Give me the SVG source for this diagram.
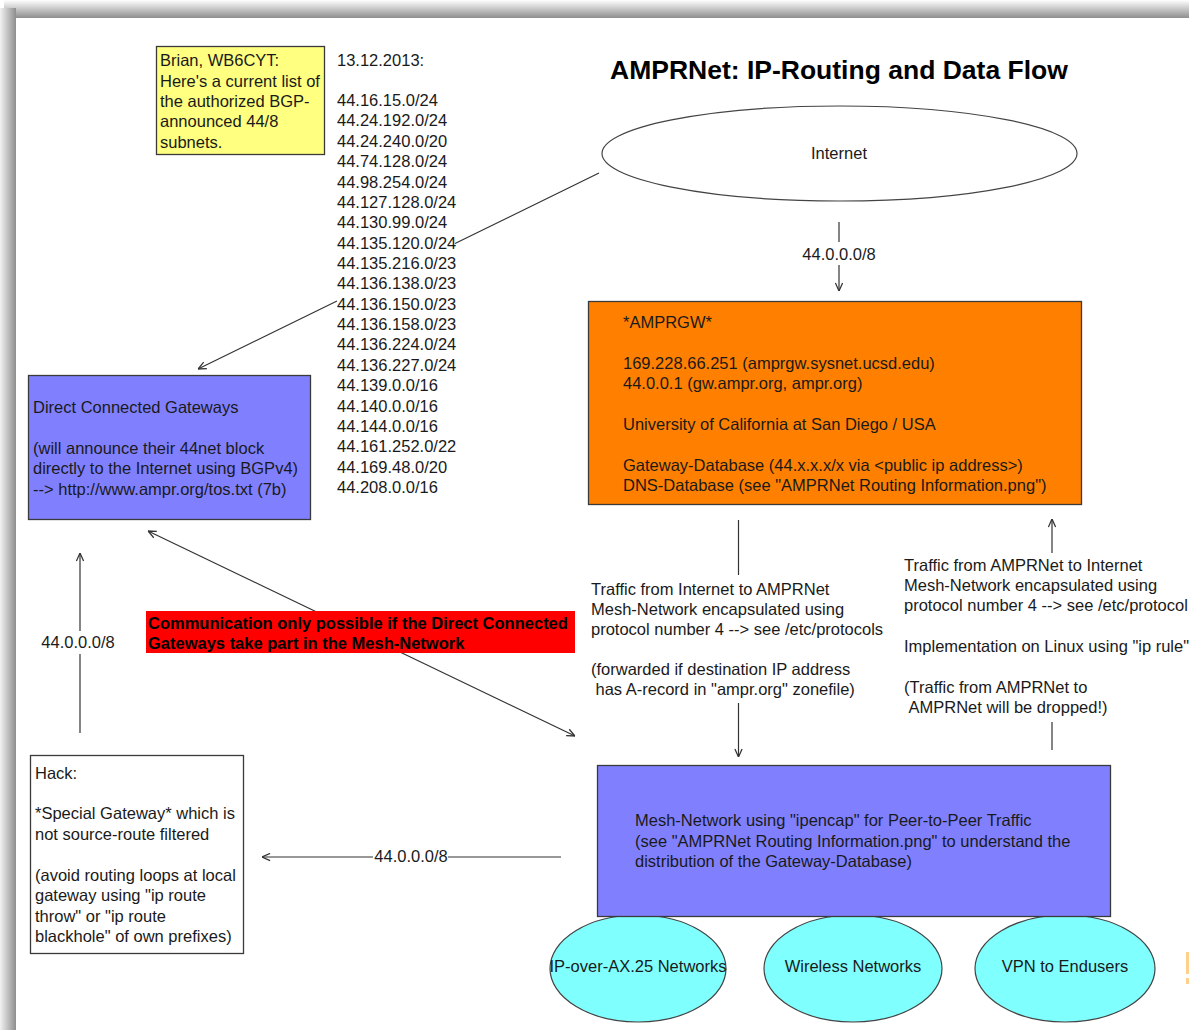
<svg xmlns="http://www.w3.org/2000/svg" width="1189" height="1030" viewBox="0 0 1189 1030">
<defs>
<style>
.t{font-family:"Liberation Sans",Arial,Helvetica,sans-serif;font-size:16.5px;fill:#1a1a1a}
.b{font-weight:bold}
.box{stroke:#3a3a3a;stroke-width:1.3}
.conn{stroke:#333;stroke-width:1.2;fill:none}
</style>
<linearGradient id="gTop" x1="0" y1="0" x2="0" y2="1">
<stop offset="0" stop-color="#ffffff"/><stop offset="1" stop-color="#8e8e8e"/>
</linearGradient>
<linearGradient id="gLeft" x1="0" y1="0" x2="1" y2="0">
<stop offset="0" stop-color="#f2f2f2"/><stop offset="1" stop-color="#8e8e8e"/>
</linearGradient>
<marker id="arr" viewBox="0 0 10 10" refX="10" refY="5" markerWidth="9" markerHeight="9" markerUnits="userSpaceOnUse" orient="auto-start-reverse">
<path d="M1,1 L10,5 L1,9" fill="none" stroke="#333" stroke-width="1.4"/>
</marker>
</defs>

<g id="page">
<rect x="0" y="0" width="1189" height="1030" fill="#ffffff"/>
<rect x="4" y="0" width="1185" height="18" fill="url(#gTop)"/>
<rect x="0" y="8" width="16" height="1022" fill="url(#gLeft)"/>
<rect x="16" y="18" width="1173" height="1012" fill="#ffffff"/>
<rect x="1186" y="952" width="3" height="22" fill="#ffd08a"/>
<rect x="1186" y="978" width="3" height="6" fill="#ffd08a"/>
</g>

<g id="title">
<text class="t b" x="610" y="79" style="font-size:26.5px;fill:#000">AMPRNet: IP-Routing and Data Flow</text>
</g>

<g id="connectors">
<path class="conn" d="M599,173 L455,243.5 M337,301 L198,369" marker-end="url(#arr)"/>
<path class="conn" d="M839,222 L839,242"/>
<path class="conn" d="M839,265 L839,291" marker-end="url(#arr)"/>
<path class="conn" d="M738.5,520 L738.5,575"/>
<path class="conn" d="M738.5,703 L738.5,757" marker-end="url(#arr)"/>
<path class="conn" d="M1052,553 L1052,519" marker-end="url(#arr)"/>
<path class="conn" d="M1052,750 L1052,722"/>
<path class="conn" d="M80,733 L80,654"/>
<path class="conn" d="M80,631 L80,553" marker-end="url(#arr)"/>
<path class="conn" d="M148,531 L575,736" marker-start="url(#arr)" marker-end="url(#arr)"/>
<path class="conn" d="M561,857 L448,857"/>
<path class="conn" d="M373,857 L262,857" marker-end="url(#arr)"/>
<text class="t" x="839" y="260" text-anchor="middle">44.0.0.0/8</text>
<text class="t" x="78" y="648" text-anchor="middle">44.0.0.0/8</text>
<text class="t" x="411" y="862" text-anchor="middle">44.0.0.0/8</text>
</g>

<g id="note-brian">
<rect class="box" x="156.5" y="46.5" width="168" height="108" fill="#ffff80"/>
<text class="t" x="160" y="66">Brian, WB6CYT:</text>
<text class="t" x="160" y="86.5">Here's a current list of</text>
<text class="t" x="160" y="107">the authorized BGP-</text>
<text class="t" x="160" y="127">announced 44/8</text>
<text class="t" x="160" y="147.5">subnets.</text>
</g>

<g id="subnet-list">
<text class="t" x="337" y="66">13.12.2013:</text>
<text class="t" x="337" y="106">44.16.15.0/24</text>
<text class="t" x="337" y="126.4">44.24.192.0/24</text>
<text class="t" x="337" y="146.7">44.24.240.0/20</text>
<text class="t" x="337" y="167.1">44.74.128.0/24</text>
<text class="t" x="337" y="187.5">44.98.254.0/24</text>
<text class="t" x="337" y="207.9">44.127.128.0/24</text>
<text class="t" x="337" y="228.2">44.130.99.0/24</text>
<text class="t" x="337" y="248.6">44.135.120.0/24</text>
<text class="t" x="337" y="269">44.135.216.0/23</text>
<text class="t" x="337" y="289.3">44.136.138.0/23</text>
<text class="t" x="337" y="309.7">44.136.150.0/23</text>
<text class="t" x="337" y="330.1">44.136.158.0/23</text>
<text class="t" x="337" y="350.4">44.136.224.0/24</text>
<text class="t" x="337" y="370.8">44.136.227.0/24</text>
<text class="t" x="337" y="391.2">44.139.0.0/16</text>
<text class="t" x="337" y="411.6">44.140.0.0/16</text>
<text class="t" x="337" y="431.9">44.144.0.0/16</text>
<text class="t" x="337" y="452.3">44.161.252.0/22</text>
<text class="t" x="337" y="472.7">44.169.48.0/20</text>
<text class="t" x="337" y="493">44.208.0.0/16</text>
</g>

<g id="internet">
<ellipse cx="839.5" cy="153.5" rx="237.5" ry="47.5" fill="#ffffff" stroke="#444" stroke-width="1.2"/>
<text class="t" x="839" y="159" text-anchor="middle">Internet</text>
</g>

<g id="amprgw">
<rect class="box" x="588.5" y="301.5" width="493" height="203" fill="#ff8000"/>
<text class="t" x="623" y="327.5">*AMPRGW*</text>
<text class="t" x="623" y="368.5">169.228.66.251 (amprgw.sysnet.ucsd.edu)</text>
<text class="t" x="623" y="389">44.0.0.1 (gw.ampr.org, ampr.org)</text>
<text class="t" x="623" y="429.5">University of California at San Diego / USA</text>
<text class="t" x="623" y="470.5">Gateway-Database (44.x.x.x/x via &lt;public ip address&gt;)</text>
<text class="t" x="623" y="491">DNS-Database (see "AMPRNet Routing Information.png")</text>
</g>

<g id="direct-gateways">
<rect class="box" x="28.5" y="375.5" width="282" height="144" fill="#8080ff"/>
<text class="t" x="33" y="413">Direct Connected Gateways</text>
<text class="t" x="33" y="453.5">(will announce their 44net block</text>
<text class="t" x="33" y="474">directly to the Internet using BGPv4)</text>
<text class="t" x="33" y="494.5">--&gt; http://www.ampr.org/tos.txt (7b)</text>
</g>

<g id="label-inbound">
<text class="t" x="591" y="594.5">Traffic from Internet to AMPRNet</text>
<text class="t" x="591" y="615">Mesh-Network encapsulated using</text>
<text class="t" x="591" y="635">protocol number 4 --&gt; see /etc/protocols</text>
<text class="t" x="591" y="675">(forwarded if destination IP address</text>
<text class="t" x="595.5" y="695">has A-record in "ampr.org" zonefile)</text>
</g>

<g id="label-outbound">
<text class="t" x="904" y="570.5">Traffic from AMPRNet to Internet</text>
<text class="t" x="904" y="591">Mesh-Network encapsulated using</text>
<text class="t" x="904" y="611">protocol number 4 --&gt; see /etc/protocol</text>
<text class="t" x="904" y="651.5">Implementation on Linux using "ip rule"</text>
<text class="t" x="904" y="692.5">(Traffic from AMPRNet to</text>
<text class="t" x="908.5" y="713">AMPRNet will be dropped!)</text>
</g>

<g id="note-communication">
<rect x="146" y="611" width="429" height="42" fill="#ff0000"/>
<text class="t b" x="148" y="628.5" style="fill:#000">Communication only possible if the Direct Connected</text>
<text class="t b" x="148" y="648.5" style="fill:#000">Gateways take part in the Mesh-Network</text>
</g>

<g id="hack">
<rect class="box" x="30.5" y="755.5" width="213" height="198" fill="#ffffff"/>
<text class="t" x="35" y="778.5">Hack:</text>
<text class="t" x="35" y="819">*Special Gateway* which is</text>
<text class="t" x="35" y="839.5">not source-route filtered</text>
<text class="t" x="35" y="880.5">(avoid routing loops at local</text>
<text class="t" x="35" y="901">gateway using "ip route</text>
<text class="t" x="35" y="921.5">throw" or "ip route</text>
<text class="t" x="35" y="942">blackhole" of own prefixes)</text>
</g>

<g id="net-ax25">
<ellipse cx="638" cy="968.5" rx="88" ry="53.5" fill="#80ffff" stroke="#444" stroke-width="1.2"/>
<text class="t" x="638" y="972" text-anchor="middle">IP-over-AX.25 Networks</text>
</g>
<g id="net-wireless">
<ellipse cx="853" cy="968.5" rx="89" ry="53.5" fill="#80ffff" stroke="#444" stroke-width="1.2"/>
<text class="t" x="853" y="972" text-anchor="middle">Wireless Networks</text>
</g>
<g id="net-vpn">
<ellipse cx="1065" cy="968.5" rx="90" ry="53.5" fill="#80ffff" stroke="#444" stroke-width="1.2"/>
<text class="t" x="1065" y="972" text-anchor="middle">VPN to Endusers</text>
</g>

<g id="mesh">
<rect class="box" x="597.5" y="765.5" width="513" height="151" fill="#8080ff"/>
<text class="t" x="635" y="826">Mesh-Network using "ipencap" for Peer-to-Peer Traffic</text>
<text class="t" x="635" y="846.5">(see "AMPRNet Routing Information.png" to understand the</text>
<text class="t" x="635" y="866.5">distribution of the Gateway-Database)</text>
</g>
</svg>
